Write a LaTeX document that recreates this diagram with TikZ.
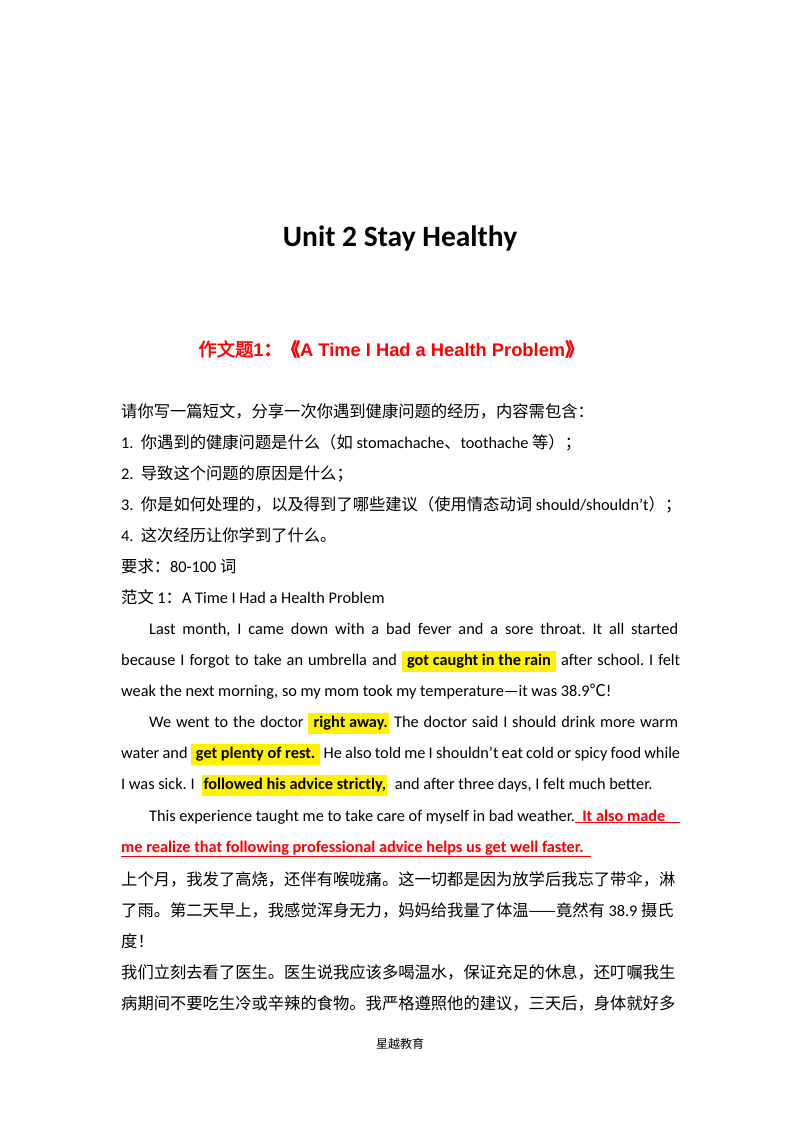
\documentclass[tikz,border=0pt]{standalone}
\usepackage{fontspec}
\setmainfont{Carlito}
\newfontfamily\cjk{Noto Sans CJK SC}
\newfontfamily\cjkb[FakeBold=2]{Noto Sans CJK SC}
\newfontfamily\arialb{Liberation Sans}
\frenchspacing
\newcommand{\hl}[1]{{\setlength{\fboxsep}{1.5pt}\colorbox{yellow}{\strut\textbf{#1}}}}
\newcommand{\ru}[1]{{\color{red}\bfseries\underline{#1}}}
\newcommand{\zh}[1]{{\fontsize{16.3}{18}\cjk #1}}
\begin{document}
\begin{tikzpicture}[x=1pt,y=-1pt,
  ln/.style={anchor=base west,inner sep=0pt,font=\fontsize{16.3}{18}\selectfont},
  cn/.style={anchor=base west,inner sep=0pt,font=\fontsize{16.3}{18}\cjk}]
\useasboundingbox (0,0) rectangle (800,1132);
\node[inner sep=0pt,anchor=base,font=\fontsize{29.5}{34}\selectfont\bfseries] (title) at (400,246) {Unit 2 Stay Healthy};
\node[inner sep=0pt,anchor=base,text=red] (head) at (391,356) {\fontsize{18.3}{22}\selectfont{\cjkb 作文题}\arialb\bfseries 1{\cjkb ：《}A Time I Had a Health Problem{\cjkb 》}};
\node[cn] (q0) at (121,417) {请你写一篇短文，分享一次你遇到健康问题的经历，内容需包含：};
\node[ln] (q1) at (121,448) {1.\ \ \zh{你遇到的健康问题是什么（如} stomachache\zh{、}toothache \zh{等）；}};
\node[ln] (q2) at (121,479) {2.\ \ \zh{导致这个问题的原因是什么；}};
\node[ln] (q3) at (121,510) {3.\ \ \zh{你是如何处理的，以及得到了哪些建议（使用情态动词} should/shouldn’t\zh{）；}};
\node[ln] (q4) at (121,541) {4.\ \ \zh{这次经历让你学到了什么。}};
\node[ln] (req) at (121,572) {\zh{要求：}80-100 \zh{词}};
\node[ln] (ex) at (121,603) {\zh{范文} 1\zh{：}A Time I Had a Health Problem};
\node[ln] (p1) at (149,634) {\hbox to 529pt{Last month, I came down with a bad fever and a sore throat. It all started}};
\node[ln] (p2) at (121,665) {\hbox to 559pt{because I forgot to take an umbrella and \hl{ got caught in the rain } after school. I felt}};
\node[ln] (p3) at (121,696) {weak the next morning, so my mom took my temperature—it was 38.9{\cjk ℃}!};
\node[ln] (p4) at (149,727) {\hbox to 529pt{We went to the doctor \hl{ right away.} The doctor said I should drink more warm}};
\node[ln] (p5) at (121,758) {\hbox to 559pt{water and \hl{ get plenty of rest. } He also told me I shouldn’t eat cold or spicy food while}};
\node[ln] (p6) at (121,789) {I was sick. I \ \hl{followed his advice strictly,} \ and after three days, I felt much better.};
\node[ln] (p7) at (149,821) {This experience taught me to take care of myself in bad weather.\ru{\ \ It also made\ \ \ \ }};
\node[ln] (p8) at (121,852) {\ru{me realize that following professional advice helps us get well faster.\ \ }};
\node[cn] (c1) at (121,885) {上个月，我发了高烧，还伴有喉咙痛。这一切都是因为放学后我忘了带伞，淋};
\node[cn] (c2) at (121,916) {了雨。第二天早上，我感觉浑身无力，妈妈给我量了体温——竟然有 {\fontsize{16.3}{18}\rmfamily 38.9} 摄氏};
\node[cn] (c3) at (121,947) {度！};
\node[cn] (c4) at (121,978) {我们立刻去看了医生。医生说我应该多喝温水，保证充足的休息，还叮嘱我生};
\node[cn] (c5) at (121,1009) {病期间不要吃生冷或辛辣的食物。我严格遵照他的建议，三天后，身体就好多};
\node[inner sep=0pt,anchor=base,font=\fontsize{12}{14}\cjk] (foot) at (400,1048) {星越教育};
\end{tikzpicture}
\end{document}
